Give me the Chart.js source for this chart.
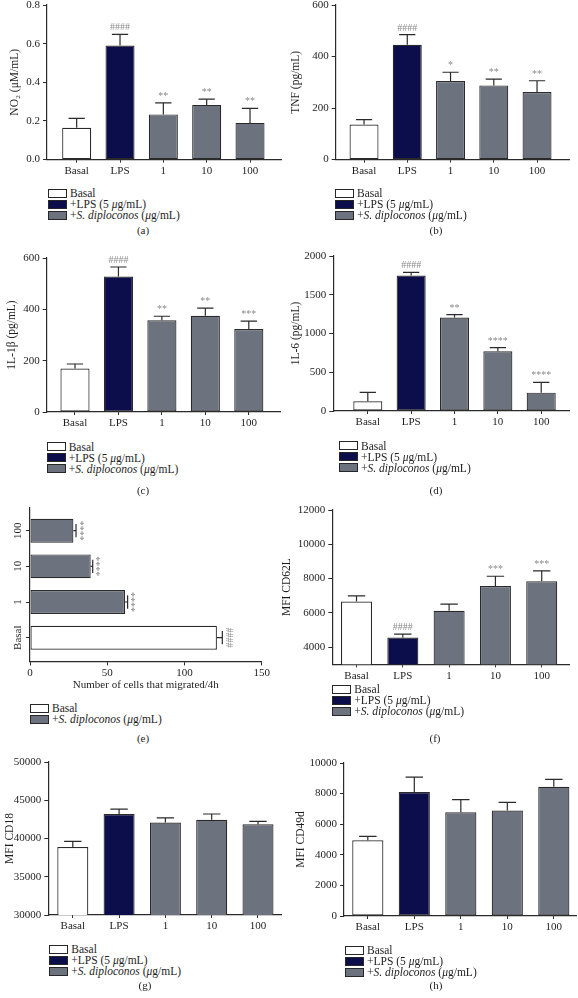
<!DOCTYPE html>
<html>
<head>
<meta charset="utf-8">
<script src="https://cdn.jsdelivr.net/npm/chart.js@4.4.1/dist/chart.umd.min.js"></script>
<style>
  html, body { margin: 0; padding: 0; background: #fff; }
  body { position: relative; width: 578px; height: 998px; overflow: hidden;
         font-family: "Liberation Serif", "Times New Roman", serif; color: #1e1e1e; }
  canvas { position: absolute; }
  .legend { position: absolute; font-size: 11.5px; }
  .legend .row { display: flex; align-items: center; height: 11px; white-space: nowrap; }
  .legend .sw { width: 17px; height: 7px; border: 1px solid #262626; margin-right: 3px; flex: none; }
  .tag { position: absolute; font-size: 11px; transform: translate(-50%, -50%); }
</style>
</head>
<body>
<script>
// groups on the x axis
const groups = ['Basal', 'LPS', '1', '10', '100'];
const groupColors = ['#ffffff', '#0b0e4a', '#6c737e', '#6c737e', '#6c737e'];

// (a) NO2
const no2Mean = [0.165, 0.590, 0.234, 0.283, 0.190];
const no2Sem = [0.048, 0.058, 0.060, 0.030, 0.075];
const no2Marks = ['', '####', '**', '**', '**'];
const no2Ticks = [0, 0.2, 0.4, 0.6, 0.8];

// (b) TNF
const tnfMean = [136, 446, 305, 288, 262];
const tnfSem = [19, 39, 34, 24, 44];
const tnfMarks = ['', '####', '*', '**', '**'];
const tnfTicks = [0, 200, 400, 600];

// (c) IL-1b
const il1bMean = [169, 528, 357, 375, 323];
const il1bSem = [18, 37, 16, 30, 31];
const il1bMarks = ['', '####', '**', '**', '***'];
const il1bTicks = [0, 200, 400, 600];

// (d) IL-6
const il6Mean = [125, 1747, 1205, 770, 237];
const il6Sem = [116, 43, 38, 47, 133];
const il6Marks = ['', '####', '**', '****', '****'];
const il6Ticks = [0, 500, 1000, 1500, 2000];

// (e) migration (horizontal)
const migGroups = ['Basal', '1', '10', '100'];
const migColors = ['#ffffff', '#6c737e', '#6c737e', '#6c737e'];
const migMean = [121, 61.5, 39.3, 28.1];
const migSem = [3.5, 1.7, 1.3, 1.7];
const migMarks = ['####', '****', '****', '****'];
const migTicks = [0, 50, 100, 150];

// (f) CD62L
const cd62lMean = [6660, 4560, 6120, 7570, 7850];
const cd62lSem = [330, 195, 390, 565, 600];
const cd62lMarks = ['', '####', '', '***', '***'];
const cd62lTicks = [4000, 6000, 8000, 10000, 12000];

// (g) CD18
const cd18Mean = [38890, 43200, 42100, 42450, 41850];
const cd18Sem = [740, 650, 600, 750, 400];
const cd18Ticks = [30000, 35000, 40000, 45000, 50000];

// (h) CD49d
const cd49dMean = [4950, 8100, 6780, 6900, 8450];
const cd49dSem = [260, 980, 830, 520, 480];
const cd49dTicks = [0, 2000, 4000, 6000, 8000, 10000];

Chart.defaults.font.family = '"Liberation Serif", "Times New Roman", serif';
Chart.defaults.font.size = 11;
Chart.defaults.color = '#1e1e1e';
const axisColor = '#2a2a2a';
const titleSize = 11.5;

// one-sided error bars + significance marks
const errorBars = {
  id: 'errorBars',
  afterDatasetsDraw(chart) {
    const ctx = chart.ctx;
    const ds = chart.data.datasets[0];
    const meta = chart.getDatasetMeta(0);
    const horiz = chart.options.indexAxis === 'y';
    const vScale = horiz ? chart.scales.x : chart.scales.y;
    ctx.save();
    ctx.strokeStyle = axisColor;
    ctx.lineWidth = 1.2;
    meta.data.forEach((bar, i) => {
      const mean = horiz ? ds.data[i].x : ds.data[i].y;
      const p = vScale.getPixelForValue(mean + ds.sem[i]);
      const half = (horiz ? bar.height : bar.width) * 0.28;
      ctx.beginPath();
      if (horiz) {
        ctx.moveTo(bar.x, bar.y); ctx.lineTo(p, bar.y);
        ctx.moveTo(p, bar.y - half); ctx.lineTo(p, bar.y + half);
      } else {
        ctx.moveTo(bar.x, bar.y); ctx.lineTo(bar.x, p);
        ctx.moveTo(bar.x - half, p); ctx.lineTo(bar.x + half, p);
      }
      ctx.stroke();
      const mark = ds.marks && ds.marks[i];
      if (mark) {
        ctx.save();
        ctx.fillStyle = '#8a8a8a';
        ctx.font = '10px "Liberation Serif", serif';
        ctx.textAlign = 'center';
        if (horiz) {
          ctx.translate(p + 3, bar.y);
          ctx.rotate(-Math.PI / 2);
          ctx.textBaseline = 'top';
          ctx.fillText(mark, 0, 0);
        } else {
          ctx.textBaseline = 'alphabetic';
          ctx.fillText(mark, bar.x, p - 4);
        }
        ctx.restore();
      }
    });
    ctx.restore();
  }
};

function makeCanvas(left, top, w, h) {
  const c = document.createElement('canvas');
  c.width = w; c.height = h;
  c.style.left = left + 'px'; c.style.top = top + 'px';
  c.style.width = w + 'px'; c.style.height = h + 'px';
  document.body.appendChild(c);
  return c;
}

const legendItems = [
  { color: '#ffffff', html: 'Basal' },
  { color: '#0b0e4a', html: '+LPS (5 <i>μ</i>g/mL)' },
  { color: '#6c737e', html: '+<i>S. diploconos</i> (<i>μ</i>g/mL)' }
];

function addLegend(x, yFirst, items) {
  const d = document.createElement('div');
  d.className = 'legend';
  d.style.left = x + 'px';
  d.style.top = (yFirst - 5.5) + 'px';
  items.forEach(it => {
    const r = document.createElement('div');
    r.className = 'row';
    r.innerHTML = '<span class="sw" style="background:' + it.color + '"></span><span>' + it.html + '</span>';
    d.appendChild(r);
  });
  document.body.appendChild(d);
}

function addTag(x, y, text) {
  const t = document.createElement('div');
  t.className = 'tag';
  t.style.left = x + 'px'; t.style.top = y + 'px';
  t.textContent = text;
  document.body.appendChild(t);
}

function verticalPanel(p) {
  const cLeft = p.col ? 280 : 0, cW = p.col ? 298 : 289;
  const padTop = 12, xh = 24;
  const cTop = p.T - padTop;
  const cH = Math.ceil(p.B + xh - cTop);
  const canvas = makeCanvas(cLeft, cTop, cW, cH);
  new Chart(canvas, {
    type: 'bar',
    data: {
      datasets: [{
        data: p.mean.map((v, i) => ({ x: i, y: v })),
        backgroundColor: groupColors,
        borderColor: axisColor,
        borderWidth: 1.2,
        borderSkipped: false,
        categoryPercentage: 1,
        barPercentage: 0.67,
        sem: p.sem,
        marks: p.marks
      }]
    },
    options: {
      responsive: false, animation: false, devicePixelRatio: 1,
      layout: { padding: { top: padTop, left: 0, bottom: cH - (p.B - cTop) - xh, right: cLeft + cW - p.R } },
      plugins: { legend: { display: false }, tooltip: { enabled: false } },
      scales: {
        x: {
          type: 'linear', min: p.xMin, max: p.xMax, offset: false,
          afterBuildTicks: s => { s.ticks = groups.map((g, i) => ({ value: i })); },
          afterFit: s => { s.height = xh; },
          ticks: { callback: v => groups[v], padding: 2, maxRotation: 0, autoSkip: false },
          grid: { drawOnChartArea: false, offset: false, tickLength: 3, color: axisColor },
          border: { color: axisColor, width: 1.2 }
        },
        y: {
          type: 'linear', min: p.yMin, max: p.yMax,
          afterBuildTicks: s => { s.ticks = p.ticks.map(v => ({ value: v })); },
          afterFit: s => { s.width = p.L - cLeft; },
          ticks: { callback: p.fmt || (v => String(v)), padding: 3 },
          grid: { drawOnChartArea: false, tickLength: 4, color: axisColor },
          border: { color: axisColor, width: 1.2 },
          title: { display: true, text: p.title, font: { size: titleSize },
                   padding: { top: p.titleX - cLeft - titleSize * 0.6, bottom: 0 } }
        }
      }
    },
    plugins: [errorBars]
  });
  addLegend(p.legend[0], p.legend[1], legendItems);
  addTag(p.tag[0], p.tag[1], p.label);
}

const panels = [
  { label: '(a)', col: 0, mean: no2Mean, sem: no2Sem, marks: no2Marks, ticks: no2Ticks, yMin: 0, yMax: 0.8,
    fmt: v => v.toFixed(1), title: 'NO\u2082 (\u03bcM/mL)',
    L: 47, T: 4.7, B: 159.3, R: 281, xMin: -0.685, xMax: 4.715, titleX: 15, legend: [48, 193], tag: [143, 230] },
  { label: '(b)', col: 1, mean: tnfMean, sem: tnfSem, marks: tnfMarks, ticks: tnfTicks, yMin: 0, yMax: 600,
    title: 'TNF (pg/mL)',
    L: 335.7, T: 4.7, B: 159.3, R: 569, xMin: -0.655, xMax: 4.739, titleX: 296, legend: [335, 193], tag: [436, 230] },
  { label: '(c)', col: 0, mean: il1bMean, sem: il1bSem, marks: il1bMarks, ticks: il1bTicks, yMin: 0, yMax: 600,
    title: '1L-1\u03b2 (pg/mL)',
    L: 46.7, T: 258.3, B: 412.3, R: 280, xMin: -0.651, xMax: 4.718, titleX: 11.7, legend: [46.7, 446.5], tag: [143, 490] },
  { label: '(d)', col: 1, mean: il6Mean, sem: il6Sem, marks: il6Marks, ticks: il6Ticks, yMin: 0, yMax: 2000,
    title: '1L-6 (pg/mL)',
    L: 333.3, T: 256, B: 411, R: 569, xMin: -0.796, xMax: 4.641, titleX: 296, legend: [339, 445.7], tag: [436, 490] },
  { label: '(f)', col: 1, mean: cd62lMean, sem: cd62lSem, marks: cd62lMarks, ticks: cd62lTicks, yMin: 3000, yMax: 12000,
    title: 'MFI CD62L',
    L: 332.3, T: 510, B: 664.3, R: 569, xMin: -0.523, xMax: 4.589, titleX: 287, legend: [332.3, 689], tag: [435, 738] },
  { label: '(g)', col: 0, mean: cd18Mean, sem: cd18Sem, marks: null, ticks: cd18Ticks, yMin: 30000, yMax: 50000,
    title: 'MFI CD18',
    L: 48.3, T: 761.7, B: 914.7, R: 281.7, xMin: -0.529, xMax: 4.512, titleX: 10, legend: [49.3, 949], tag: [145, 985] },
  { label: '(h)', col: 1, mean: cd49dMean, sem: cd49dSem, marks: null, ticks: cd49dTicks, yMin: 0, yMax: 10000,
    title: 'MFI CD49d',
    L: 344, T: 762.7, B: 915.7, R: 576, xMin: -0.512, xMax: 4.477, titleX: 300.7, legend: [345, 950], tag: [436, 985] }
];

// (e) horizontal migration chart
(function () {
  const L = 30, T = 508.3, B = 661.7, R = 261.7;
  const cLeft = 0, cW = 289, padTop = 12, xh = 32;
  const cTop = T - padTop;
  const cH = Math.ceil(B + xh - cTop);
  const canvas = makeCanvas(cLeft, cTop, cW, cH);
  new Chart(canvas, {
    type: 'bar',
    data: {
      datasets: [{
        data: migMean.map((v, i) => ({ x: v, y: i })),
        backgroundColor: migColors,
        borderColor: axisColor,
        borderWidth: 1.2,
        borderSkipped: false,
        categoryPercentage: 1,
        barPercentage: 0.67,
        sem: migSem,
        marks: migMarks
      }]
    },
    options: {
      indexAxis: 'y',
      responsive: false, animation: false, devicePixelRatio: 1,
      layout: { padding: { top: padTop, left: 0, bottom: cH - (B - cTop) - xh, right: cLeft + cW - R } },
      plugins: { legend: { display: false }, tooltip: { enabled: false } },
      scales: {
        x: {
          type: 'linear', min: 0, max: 150,
          afterBuildTicks: s => { s.ticks = migTicks.map(v => ({ value: v })); },
          afterFit: s => { s.height = xh; },
          ticks: { padding: 1, maxRotation: 0 },
          grid: { drawOnChartArea: false, tickLength: 4, color: axisColor },
          border: { color: axisColor, width: 1.2 },
          title: { display: true, text: 'Number of cells that migrated/4h', font: { size: 11 }, padding: { top: 0, bottom: 2 } }
        },
        y: {
          type: 'linear', min: -0.665, max: 3.636, offset: false,
          afterBuildTicks: s => { s.ticks = migGroups.map((g, i) => ({ value: i })); },
          afterFit: s => { s.width = L - cLeft; },
          ticks: { callback: v => migGroups[v], minRotation: 90, maxRotation: 90, crossAlign: 'center', padding: -4, autoSkip: false },
          grid: { drawOnChartArea: false, offset: false, tickLength: 4, color: axisColor },
          border: { color: axisColor, width: 1.2 }
        }
      }
    },
    plugins: [errorBars]
  });
  addLegend(30, 708.3, [legendItems[0], legendItems[2]]);
  addTag(143, 738, '(e)');
})();

panels.forEach(verticalPanel);
</script>
</body>
</html>
